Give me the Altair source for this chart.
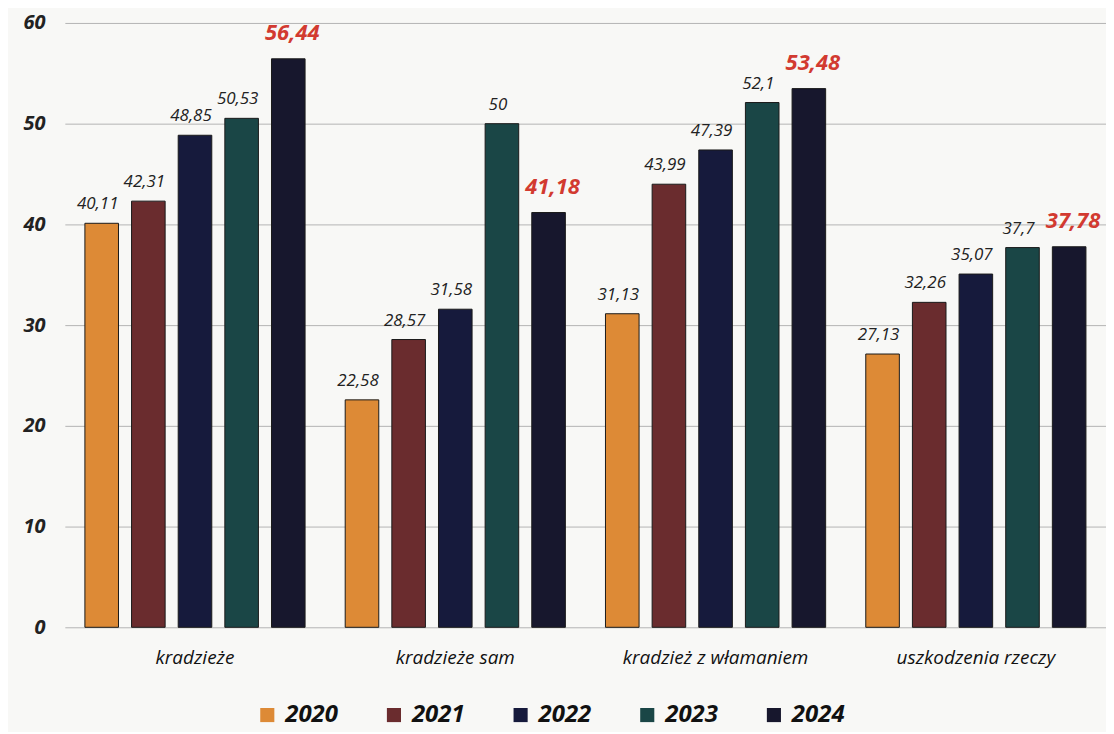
import altair as alt
import pandas as pd

categories = ["kradzieże", "kradzieże sam", "kradzież z włamaniem", "uszkodzenia rzeczy"]
years = ["2020", "2021", "2022", "2023", "2024"]
v2020 = [40.11, 22.58, 31.13, 27.13]
v2021 = [42.31, 28.57, 43.99, 32.26]
v2022 = [48.85, 31.58, 47.39, 35.07]
v2023 = [50.53, 50.0, 52.1, 37.7]
v2024 = [56.44, 41.18, 53.48, 37.78]
colors = ["#dd8a36", "#6a2c2e", "#161a3c", "#1a4646", "#17172d"]

rows = []
for yr, vals in zip(years, [v2020, v2021, v2022, v2023, v2024]):
    for c, v in zip(categories, vals):
        rows.append({"kat": c, "rok": yr, "v": v,
                     "lab": f"{v:g}".replace(".", ","),
                     "hl": yr == "2024"})
df = pd.DataFrame(rows)

x = alt.X("kat:N", sort=categories, title=None,
          scale=alt.Scale(paddingInner=0, paddingOuter=0),
          axis=alt.Axis(labelAngle=0, labelFont="Open Sans", labelFontStyle="italic",
                        labelFontSize=19, labelColor="#111", labelPadding=21,
                        labelLimit=400, ticks=False, domain=False))
xo = alt.XOffset("rok:N", sort=years,
                 scale=alt.Scale(paddingInner=0.28, paddingOuter=0.43))
y = alt.Y("v:Q", title=None,
          scale=alt.Scale(domain=[0, 60], nice=False),
          axis=alt.Axis(values=[0, 10, 20, 30, 40, 50, 60], labelFont="Open Sans",
                        labelFontStyle="italic", labelFontWeight="bold", labelFontSize=20,
                        labelColor="#222", labelPadding=20, ticks=False, domain=False,
                        gridColor="#b4b4b4", gridWidth=1))

base = alt.Chart(df)

bars = base.mark_bar(stroke="#1a1a1a", strokeWidth=1).encode(
    x=x, xOffset=xo, y=y,
    color=alt.Color("rok:N", sort=years,
                    scale=alt.Scale(domain=years, range=colors),
                    legend=alt.Legend(title=None, orient="none", direction="horizontal",
                                      legendX=191, legendY=682, symbolType="square",
                                      symbolSize=200, symbolStrokeWidth=0,
                                      labelFont="Open Sans", labelFontStyle="italic",
                                      labelFontWeight="bold", labelFontSize=24,
                                      labelColor="#111", columnPadding=44, labelOffset=6,
                                      labelLimit=200)),
)

labels = base.transform_filter("!datum.hl").mark_text(
    font="Open Sans", fontStyle="italic", fontSize=17, color="#222",
    baseline="bottom", dy=-10, dx=-4,
).encode(x=x, xOffset=xo, y=y, text="lab:N")

red = base.transform_filter("datum.hl").mark_text(
    font="Open Sans", fontStyle="italic", fontWeight="bold", fontSize=22, color="#d23a30",
    baseline="bottom", dy=-14, dx=4,
).encode(x=x, xOffset=xo, y=y, text="lab:N")

chart = alt.layer(bars, labels, red).properties(
    width=1044, height=606,
    autosize=alt.AutoSizeParams(type="none"),
    padding={"left": 57, "top": 14, "right": 0, "bottom": 104},
    background="#f8f8f6",
).configure_view(stroke=None)

chart.save("out.html", embed_options={"renderer": "svg", "actions": False})
